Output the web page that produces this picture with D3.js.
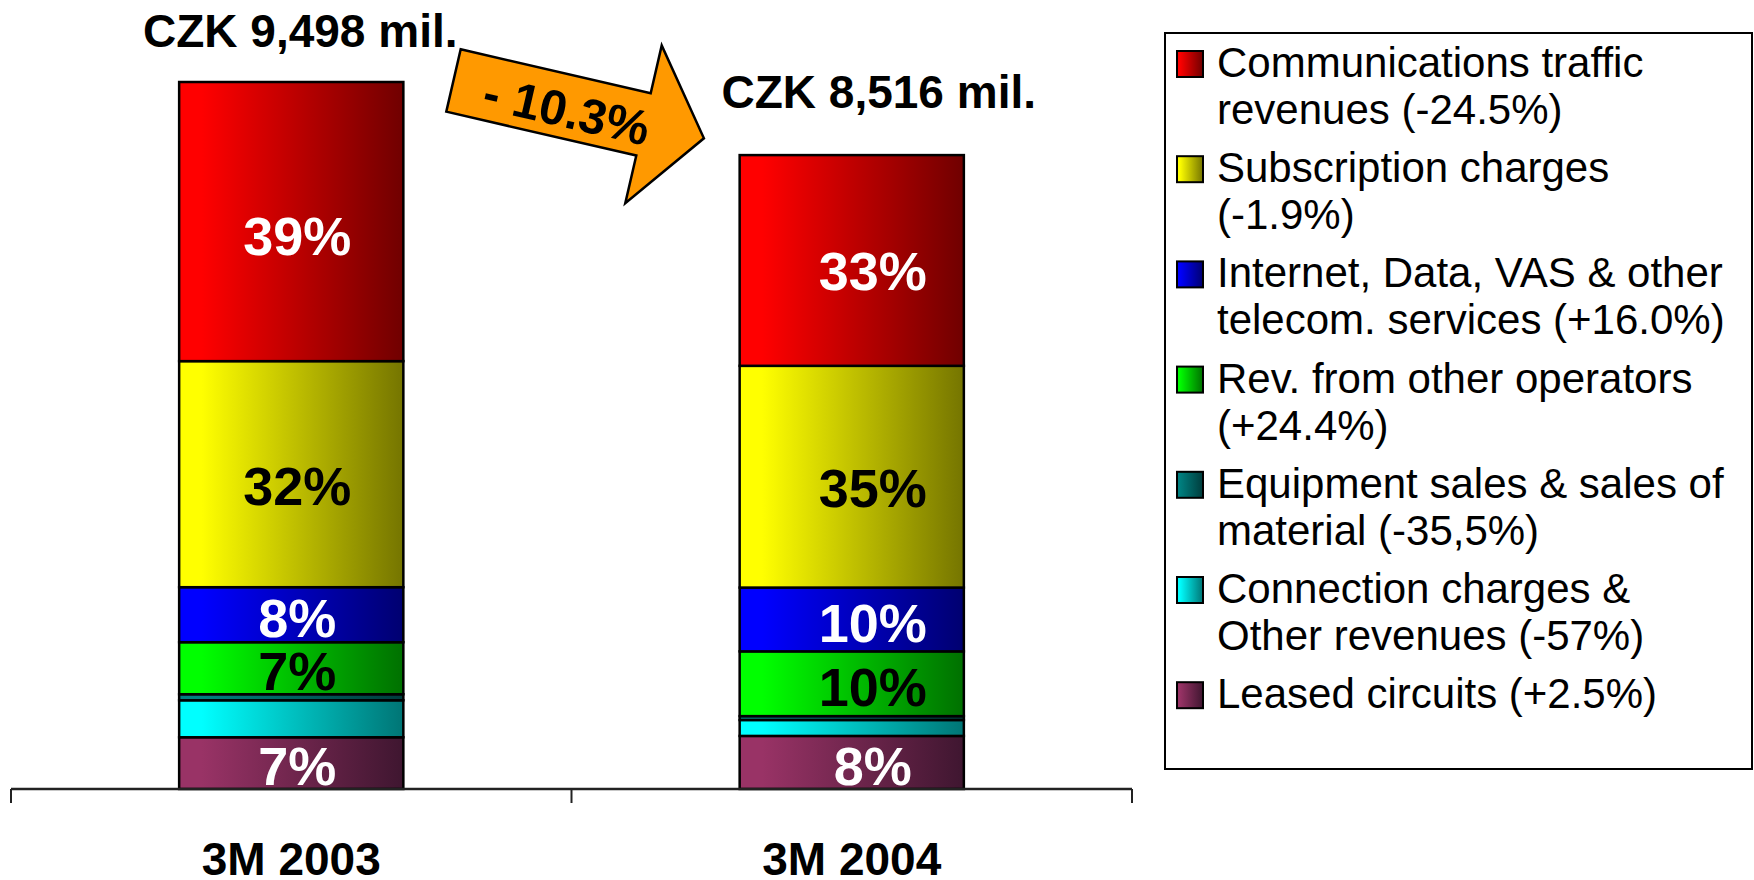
<!DOCTYPE html>
<html>
<head>
<meta charset="utf-8">
<script src="https://cdn.jsdelivr.net/npm/d3@7"></script>
<style>
  body { margin: 0; background: #fff; }
  text { font-family: "Liberation Sans", Arial, sans-serif; }
</style>
</head>
<body>
<svg id="chart"></svg>
<script>
// ------------------------------------------------------------------
// Data
// ------------------------------------------------------------------
var periods = ["3M 2003", "3M 2004"];
var totalLabels = ["CZK 9,498 mil.", "CZK 8,516 mil."];
var changeLabel = "- 10.3%";

// legend / stack order, top of the bar first
var categories = ["Communications traffic", "Subscription charges", "Internet, Data, VAS",
                  "Rev. from other operators", "Equipment sales", "Connection charges", "Leased circuits"];
var legendLines = [
  ["Communications traffic", "revenues (-24.5%)"],
  ["Subscription charges", "(-1.9%)"],
  ["Internet, Data, VAS & other", "telecom. services (+16.0%)"],
  ["Rev. from other operators", "(+24.4%)"],
  ["Equipment sales & sales of", "material (-35,5%)"],
  ["Connection charges &", "Other revenues (-57%)"],
  ["Leased circuits (+2.5%)"]
];
var values2003 = [3750, 3037, 739, 699, 81, 497, 695];
var values2004 = [2831, 2979, 857, 870, 52, 214, 713];
var shares2003 = ["39%", "32%", "8%", "7%", "", "", "7%"];
var shares2004 = ["33%", "35%", "10%", "10%", "", "", "8%"];

// colours: light side / dark side of the gradient, label colour
var lightCol = ["#ff0000", "#ffff00", "#0000ff", "#00ff00", "#008080", "#00ffff", "#993366"];
var darkCol  = ["#700000", "#757500", "#000070", "#007000", "#003c3c", "#007575", "#3f1630"];
var labelCol = ["#fff", "#000", "#fff", "#000", "#fff", "#000", "#fff"];

// ------------------------------------------------------------------
var width = 1754, height = 880;
var svg = d3.select("#chart").attr("width", width).attr("height", height);
svg.append("rect").attr("width", width).attr("height", height).attr("fill", "#fff");

var defs = svg.append("defs");
categories.forEach(function (c, i) {
  var g = defs.append("linearGradient").attr("id", "grad" + i)
    .attr("x1", 0).attr("x2", 1).attr("y1", 0).attr("y2", 0);
  g.append("stop").attr("offset", 0).attr("stop-color", lightCol[i]);
  g.append("stop").attr("offset", 0.1).attr("stop-color", lightCol[i]);
  g.append("stop").attr("offset", 1).attr("stop-color", darkCol[i]);
});

// scales
var x = d3.scaleBand().domain(periods).range([11, 1132]);
var y = d3.scaleLinear().domain([0, 9498]).range([789, 82]);
var barW = x.bandwidth() * 0.4;

var allValues = [values2003, values2004];
var allShares = [shares2003, shares2004];
var rows = periods.map(function (p, i) {
  var o = { period: p, idx: i };
  categories.forEach(function (c, j) { o[c] = allValues[i][j]; });
  return o;
});

// stack bottom-up
var keysBottomUp = categories.slice().reverse();
var layers = d3.stack().keys(keysBottomUp)(rows);

var labelDx = [6, 21];   // labels sit a little right of the bar centre

layers.forEach(function (layer) {
  var ci = categories.indexOf(layer.key);
  var gLayer = svg.append("g");
  gLayer.selectAll("rect")
    .data(layer)
    .enter().append("rect")
      .attr("x", function (d) { return x(d.data.period) + (x.bandwidth() - barW) / 2; })
      .attr("y", function (d) { return y(d[1]); })
      .attr("width", barW)
      .attr("height", function (d) { return y(d[0]) - y(d[1]); })
      .attr("fill", "url(#grad" + ci + ")")
      .attr("stroke", "#000")
      .attr("stroke-width", 2.5);

  gLayer.selectAll("text")
    .data(layer)
    .enter().append("text")
      .attr("x", function (d) { return x(d.data.period) + x.bandwidth() / 2 + labelDx[d.data.idx]; })
      .attr("y", function (d) {
        var h = y(d[0]) - y(d[1]);
        return (y(d[0]) + y(d[1])) / 2 + h * 0.05;
      })
      .attr("dy", "0.36em")
      .attr("text-anchor", "middle")
      .attr("font-size", 54)
      .attr("font-weight", "bold")
      .attr("fill", labelCol[ci])
      .text(function (d) { return allShares[d.data.idx][ci]; });
});

// axis: baseline plus ticks at the category edges
var axisY = y(0);
var x0 = x.range()[0], x1 = x.range()[1];
var axis = svg.append("g").attr("class", "x axis");
axis.append("line")
  .attr("x1", x0).attr("x2", x1).attr("y1", axisY).attr("y2", axisY)
  .attr("stroke", "#222").attr("stroke-width", 2.5);
d3.range(periods.length + 1).forEach(function (i) {
  var tx = x0 + i * x.step();
  axis.append("line")
    .attr("x1", tx).attr("x2", tx).attr("y1", axisY).attr("y2", axisY + 14)
    .attr("stroke", "#222").attr("stroke-width", 2);
});
axis.selectAll("text.cat")
  .data(periods)
  .enter().append("text")
    .attr("class", "cat")
    .attr("x", function (d) { return x(d) + x.bandwidth() / 2; })
    .attr("y", 875)
    .attr("text-anchor", "middle")
    .attr("font-size", 46)
    .attr("font-weight", "bold")
    .text(function (d) { return d; });

// totals above the bars
var totalPos = [{ dx: 9, dy: 35 }, { dx: 27, dy: 47 }];
svg.selectAll("text.total")
  .data(periods)
  .enter().append("text")
    .attr("class", "total")
    .attr("x", function (d, i) { return x(d) + x.bandwidth() / 2 + totalPos[i].dx; })
    .attr("y", function (d, i) { return y(d3.sum(allValues[i])) - totalPos[i].dy; })
    .attr("text-anchor", "middle")
    .attr("font-size", 46)
    .attr("font-weight", "bold")
    .text(function (d, i) { return totalLabels[i]; });

// change arrow (block arrow, drawn along x then rotated)
var arrowShape = [[0, -32], [195, -32], [195, -81], [257, 0], [195, 81], [195, 32], [0, 32]];
var arrow = svg.append("g").attr("transform", "translate(453.5,80.5) rotate(13)");
arrow.append("path")
  .attr("d", d3.line()(arrowShape) + "Z")
  .attr("fill", "#ff9900")
  .attr("stroke", "#000")
  .attr("stroke-width", 2.5)
  .attr("stroke-linejoin", "miter");
arrow.append("text")
  .attr("x", 117).attr("y", 3)
  .attr("dy", "0.36em")
  .attr("text-anchor", "middle")
  .attr("font-size", 49)
  .attr("font-weight", "bold")
  .text(changeLabel);

// legend
var legend = svg.append("g");
legend.append("rect")
  .attr("x", 1165).attr("y", 33).attr("width", 587).attr("height", 736)
  .attr("fill", "#fff").attr("stroke", "#000").attr("stroke-width", 2);

var item = legend.selectAll("g.item")
  .data(categories)
  .enter().append("g")
    .attr("class", "item")
    .attr("transform", function (d, i) { return "translate(1177," + (77 + i * 105.2) + ")"; });
item.append("rect")
  .attr("x", 0).attr("y", -26).attr("width", 26).attr("height", 26)
  .attr("fill", function (d, i) { return "url(#grad" + i + ")"; })
  .attr("stroke", "#000").attr("stroke-width", 2);
item.each(function (d, i) {
  var t = d3.select(this).append("text")
    .attr("x", 40).attr("y", 0)
    .attr("font-size", 42)
    .attr("fill", "#000");
  legendLines[i].forEach(function (line, k) {
    t.append("tspan").attr("x", 40).attr("y", k * 47).text(line);
  });
});
</script>
</body>
</html>
